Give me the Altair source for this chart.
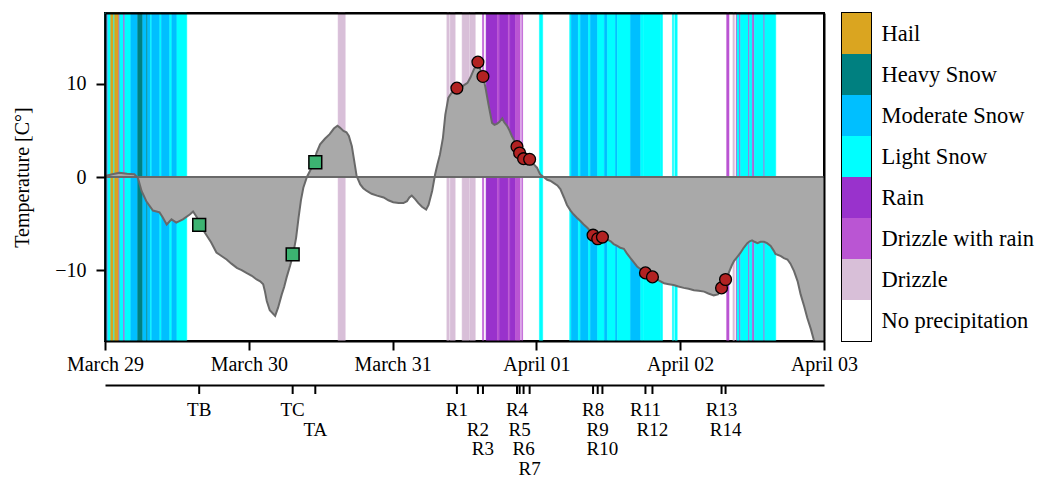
import altair as alt
import pandas as pd

BASE = pd.Timestamp("2022-03-29 00:00:00")
FONT = "Liberation Serif"

# ---- temperature series (hours since March 29 00:00, degrees C) ----
temp_hours = [0.0, 1.2, 2.4, 3.7, 4.9, 5.5, 6.1, 6.9, 8.0, 9.1, 9.6, 10.3, 11.1, 11.9, 13.0, 14.2, 14.7,
              15.3, 15.8, 17.0, 17.7, 18.6, 19.5, 20.3, 21.1, 22.0, 22.8, 23.6, 24.5, 25.3, 25.9, 26.4,
              26.7, 27.0, 27.5, 28.4, 28.9, 29.5, 29.9, 30.3, 30.9, 31.4, 31.9, 32.3, 32.7, 33.1, 33.7,
              34.2, 34.8, 35.3, 35.9, 36.7, 37.5, 38.2, 38.8, 39.2, 39.8, 40.3, 40.7, 41.2, 41.5, 42.0,
              42.6, 43.1, 43.7, 44.5, 45.4, 46.5, 47.3, 48.1, 49.0, 49.8, 50.4, 50.8, 51.2, 51.8, 52.3,
              52.9, 53.6, 54.0, 54.6, 55.1, 55.5, 55.9, 56.4, 56.8, 57.3, 57.8, 58.5, 59.1, 59.8, 60.5,
              61.0, 61.6, 62.3, 62.6, 63.1, 63.5, 64.0, 64.6, 65.0, 65.4, 65.8, 66.3, 66.6, 67.1, 67.5,
              67.9, 68.3, 68.8, 69.2, 69.9, 70.4, 70.9, 71.5, 72.1, 72.6, 73.2, 73.8, 74.3, 74.8, 75.5,
              76.0, 76.6, 77.1, 77.7, 78.2, 78.8, 79.3, 79.9, 80.5, 81.0, 81.5, 82.2, 83.0, 83.8, 84.4,
              84.9, 85.5, 86.0, 86.6, 87.1, 87.7, 88.3, 88.8, 89.4, 90.2, 91.4, 92.4, 93.3, 94.1, 94.9,
              95.7, 96.6, 97.4, 98.3, 99.1, 100.0, 100.7, 101.6, 102.3, 102.9, 103.6, 104.1, 104.6,
              105.0, 105.5, 106.1, 106.6, 107.2, 107.6, 108.0, 108.4, 108.9, 109.4, 110.0, 110.5, 111.1,
              111.6, 111.9, 112.8, 113.3, 113.9, 114.4, 115.0, 115.6, 116.1, 116.7, 117.2, 117.8, 118.3,
              118.9, 119.5, 120.0]
temp_values = [0.1, 0.3, 0.45, 0.35, 0.3, -0.1, -1.5, -2.6, -3.6, -3.8, -4.3, -5.1, -4.55, -4.9, -4.55,
               -4.0, -3.7, -4.3, -5.1, -6.3, -7.0, -8.1, -8.5, -8.85, -9.3, -9.75, -10.0, -10.3, -10.6,
               -11.0, -11.2, -11.5, -12.3, -13.3, -14.3, -14.9, -14.0, -12.6, -11.8, -10.8, -9.5, -8.3,
               -6.5, -4.4, -2.5, -1.15, 0.0, 0.65, 1.4, 2.6, 3.5, 4.1, 4.6, 5.2, 5.5, 5.3, 4.95, 4.8, 4.4,
               3.3, 2.1, 0.1, -0.8, -1.2, -1.5, -1.8, -2.0, -2.2, -2.5, -2.7, -2.8, -2.8, -2.6, -2.2,
               -2.0, -2.4, -2.8, -3.2, -3.5, -3.0, -1.5, 0.3, 1.4, 2.4, 4.2, 6.7, 8.5, 9.0, 9.25, 9.5,
               9.8, 10.1, 10.7, 11.6, 12.3, 11.6, 10.8, 9.6, 7.8, 5.8, 5.6, 5.7, 5.9, 6.3, 5.9, 5.5, 5.0,
               4.4, 3.9, 3.3, 2.6, 2.0, 1.9, 1.9, 1.4, 1.0, 0.3, 0.0, -0.3, -0.4, -0.6, -0.9, -1.3, -2.2,
               -3.0, -3.6, -4.0, -4.4, -4.7, -5.1, -5.45, -5.8, -6.2, -6.5, -6.5, -6.7, -6.9, -7.2, -7.4,
               -7.6, -7.7, -8.2, -8.7, -9.2, -9.6, -9.9, -10.3, -10.7, -11.1, -11.4, -11.5, -11.6, -11.75,
               -11.9, -12.0, -12.15, -12.2, -12.3, -12.5, -12.7, -12.6, -12.1, -11.2, -10.3, -9.5, -9.0,
               -8.6, -8.1, -7.6, -7.1, -6.9, -6.8, -6.95, -7.1, -6.95, -6.95, -7.1, -7.4, -7.9, -8.25,
               -8.5, -8.7, -8.85, -9.3, -10.1, -11.2, -12.6, -13.9, -15.1, -16.3, -17.5, -18.6, -19.8,
               -20.8]

# ---- precipitation type periods (hours since March 29 00:00) ----
band_start = [0.0, 0.3, 0.45, 0.95, 1.45, 1.6, 2.3, 2.45, 3.1, 3.3, 4.3, 5.45, 6.3, 6.95, 7.1, 7.6, 7.8,
              9.15, 9.4, 10.8, 11.15, 12.0,
              38.9,
              57.05, 57.6, 59.6, 60.9, 63.0, 63.6, 65.5, 65.8, 67.3, 67.6, 68.5, 69.55,
              72.5,
              77.55, 77.8, 79.0, 79.35, 80.7, 81.0, 82.2, 83.35, 83.85, 85.2, 85.5, 87.7, 89.4, 89.9,
              92.7, 94.7, 95.1,
              103.75, 104.8, 105.35, 105.5, 105.9, 106.05, 107.4, 107.55, 108.05, 108.35, 109.95, 110.1]
band_end = [0.3, 0.45, 0.95, 1.45, 1.6, 2.3, 2.45, 3.1, 3.3, 4.3, 5.45, 6.3, 6.95, 7.1, 7.6, 7.8, 9.15,
            9.4, 10.8, 11.15, 12.0, 13.65,
            40.1,
            57.45, 58.45, 60.8, 61.8, 63.2, 65.5, 65.8, 67.3, 67.6, 68.5, 69.3, 69.7,
            73.05,
            77.8, 79.0, 79.35, 80.7, 81.0, 82.2, 83.35, 83.85, 85.2, 85.5, 87.7, 89.4, 89.9, 92.7,
            93.05, 94.9, 95.5,
            104.15, 105.05, 105.5, 105.9, 106.05, 107.4, 107.55, 108.05, 108.35, 109.95, 110.1, 111.95]
band_type = ["Light Snow", "Drizzle with rain", "Light Snow", "Hail", "Light Snow", "Hail",
             "Drizzle with rain", "Light Snow", "Drizzle with rain", "Light Snow", "Moderate Snow",
             "Heavy Snow", "Moderate Snow", "Heavy Snow", "Moderate Snow", "Light Snow", "Moderate Snow",
             "Light Snow", "Moderate Snow", "Light Snow", "Moderate Snow", "Light Snow",
             "Drizzle",
             "Drizzle", "Drizzle", "Drizzle", "Drizzle", "Drizzle with rain", "Rain", "Drizzle with rain",
             "Rain", "Drizzle with rain", "Rain", "Drizzle with rain", "Drizzle with rain",
             "Light Snow",
             "Light Snow", "Moderate Snow", "Light Snow", "Moderate Snow", "Light Snow", "Moderate Snow",
             "Light Snow", "Moderate Snow", "Light Snow", "Moderate Snow", "Light Snow", "Moderate Snow",
             "Light Snow", "Light Snow", "Light Snow", "Light Snow", "Light Snow",
             "Drizzle with rain", "Drizzle", "Drizzle with rain", "Light Snow", "Drizzle with rain",
             "Light Snow", "Drizzle with rain", "Light Snow", "Drizzle with rain", "Light Snow",
             "Drizzle with rain", "Light Snow"]

# ---- sampling events ----
event_names = ["TB", "TC", "TA", "R1", "R2", "R3", "R4", "R5", "R6", "R7", "R8", "R9", "R10",
               "R11", "R12", "R13", "R14"]
event_hours = [15.72, 31.32, 35.1, 58.73, 62.24, 63.08, 68.76, 69.2, 69.86, 70.87, 81.46, 82.23,
               83.02, 90.2, 91.37, 102.9, 103.57]
event_temps = [-5.13, -8.31, 1.58, 9.54, 12.33, 10.79, 3.26, 2.58, 1.97, 1.9, -6.24, -6.63, -6.45,
               -10.29, -10.72, -11.9, -11.0]
event_kind = ["T", "T", "T"] + ["R"] * 14
event_level = [1, 1, 2, 1, 2, 3, 1, 2, 3, 4, 1, 2, 3, 1, 2, 1, 2]

categories = ["Hail", "Heavy Snow", "Moderate Snow", "Light Snow", "Rain", "Drizzle with rain",
              "Drizzle", "No precipitation"]
cat_colors = ["#DAA520", "#008080", "#00BFFF", "#00FFFF", "#9932CC", "#BA55D3", "#D8BFD8", "#FFFFFF"]


def to_time(hours):
    return [BASE + pd.Timedelta(hours=h) for h in hours]


temp_df = pd.DataFrame({"time": to_time(temp_hours), "temp": temp_values})
band_df = pd.DataFrame({"start": to_time(band_start), "end": to_time(band_end), "type": band_type})
ev_df = pd.DataFrame({"time": to_time(event_hours), "temp": event_temps, "name": event_names,
                      "kind": event_kind, "level": event_level})
zero_df = pd.DataFrame({"zero": [0]})
leg_df = pd.DataFrame({"type": categories})

day_ticks = [alt.DateTime(year=2022, month=3, date=d) for d in (29, 30, 31)] + \
            [alt.DateTime(year=2022, month=4, date=d) for d in (1, 2, 3)]
xscale = alt.Scale(domain=[day_ticks[0], day_ticks[-1]])
yscale = alt.Scale(domain=[-17.6, 17.6], nice=False, zero=False)
color_scale = alt.Scale(domain=categories, range=cat_colors)

x_axis = alt.Axis(values=day_ticks, format="%B %d", title=None, labelFont=FONT, labelFontSize=20,
                  labelColor="black", tickColor="black", tickSize=9, tickWidth=2, domainColor="black",
                  domainWidth=2, labelPadding=4, grid=False, zindex=1, labelAngle=0,
                  labelAlign="center", labelFlush=False)
y_axis = alt.Axis(values=[-10, 0, 10], title="Temperature [C°]", titleFont=FONT, titleFontSize=20,
                  titleFontWeight="normal", titleColor="black", titlePadding=22, labelFont=FONT,
                  labelFontSize=20, labelColor="black", tickColor="black", tickSize=9, tickWidth=2,
                  domainColor="black", domainWidth=2, labelPadding=10, grid=False, zindex=1)
top_frame = alt.Axis(orient="top", ticks=False, labels=False, domainColor="black", domainWidth=2,
                     title=None, grid=False, zindex=1)
right_frame = alt.Axis(orient="right", ticks=False, labels=False, domainColor="black", domainWidth=2,
                       title=None, grid=False, zindex=1)

bands = alt.Chart(band_df).mark_rect(strokeWidth=0.5).encode(
    x=alt.X("start:T", scale=xscale, axis=x_axis),
    x2="end:T",
    color=alt.Color("type:N", scale=color_scale, legend=None),
    stroke=alt.Stroke("type:N", scale=color_scale, legend=None),
)
area = alt.Chart(temp_df).mark_area(color="#A9A9A9", clip=True).encode(
    x=alt.X("time:T", scale=xscale, axis=None),
    y=alt.Y("temp:Q", scale=yscale, axis=y_axis),
    y2=alt.datum(0),
)
line = alt.Chart(temp_df).mark_line(color="#696969", strokeWidth=2, clip=True).encode(
    x=alt.X("time:T", scale=xscale, axis=top_frame),
    y=alt.Y("temp:Q", scale=yscale, axis=right_frame),
)
zero = alt.Chart(zero_df).mark_rule(color="#696969", strokeWidth=2).encode(
    y=alt.Y("zero:Q", scale=yscale, axis=None)
)
squares = alt.Chart(ev_df).transform_filter(alt.datum.kind == "T").mark_square(
    size=165, color="#3CB371", stroke="black", strokeWidth=1.5, opacity=1
).encode(x=alt.X("time:T", scale=xscale, axis=None), y=alt.Y("temp:Q", scale=yscale, axis=None))
circles = alt.Chart(ev_df).transform_filter(alt.datum.kind == "R").mark_circle(
    size=140, color="#B22222", stroke="black", strokeWidth=1.3, opacity=1
).encode(x=alt.X("time:T", scale=xscale, axis=None), y=alt.Y("temp:Q", scale=yscale, axis=None))

main = alt.layer(bands, area, line, zero, squares, circles).resolve_axis(
    x="independent", y="independent").properties(width=719, height=328)

legend = alt.Chart(leg_df).mark_rect().encode(
    y=alt.Y("type:N", sort=categories, scale=alt.Scale(paddingInner=0, paddingOuter=0),
            axis=alt.Axis(orient="right", ticks=False, domain=False, title=None, labelFont=FONT,
                          labelFontSize=22.5, labelPadding=10, labelColor="black", labelLimit=300)),
    color=alt.Color("type:N", scale=color_scale, legend=None),
).properties(width=29, height=328)

ev_axis = alt.Axis(orient="top", ticks=False, labels=False, domainColor="black", domainWidth=2,
                   title=None, grid=False)
ev_ticks = alt.Chart(ev_df).mark_rule(color="black", strokeWidth=2).encode(
    x=alt.X("time:T", scale=xscale, axis=ev_axis),
    y=alt.value(0),
    y2=alt.value(9),
)
ev_labels = alt.Chart(ev_df).mark_text(font=FONT, fontSize=19, color="black", baseline="middle").encode(
    x=alt.X("time:T", scale=xscale),
    y=alt.Y("level:Q", scale=alt.Scale(domain=[0, 4], range=[5.3, 84]), axis=None),
    text="name:N",
)
events = alt.layer(ev_ticks, ev_labels).properties(
    width=719, height=88, view=alt.ViewBackground(stroke="transparent")
)

top = alt.hconcat(main, legend, spacing=18).resolve_scale(y="independent").properties(bounds="flush")
chart = alt.vconcat(top, events, spacing=8).resolve_scale(x="independent", y="independent").properties(
    padding={"left": 11, "top": 11, "right": 0, "bottom": 0}
).configure(font=FONT).configure_view(stroke="black", strokeWidth=2)

chart.save("out.html", embed_options={"renderer": "svg", "actions": False})
